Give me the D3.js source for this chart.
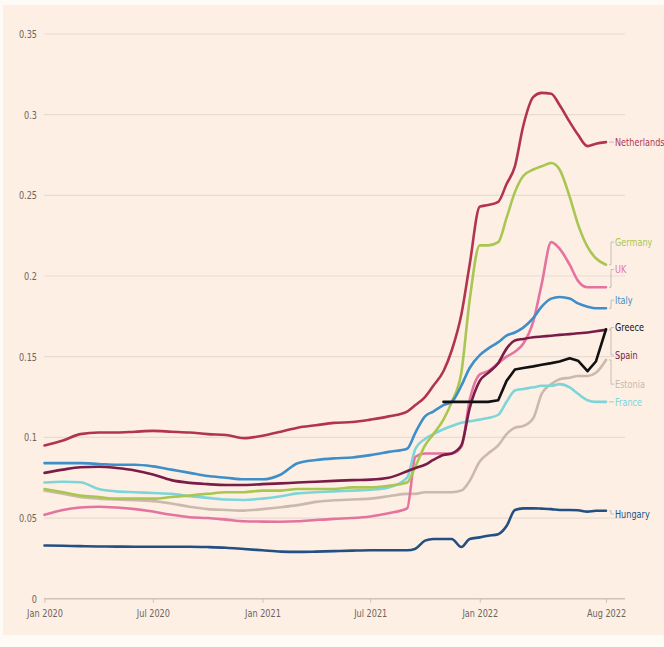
<!DOCTYPE html>
<html><head><meta charset="utf-8">
<script src="https://cdn.jsdelivr.net/npm/d3@7"></script>
<style>
html,body{margin:0;padding:0;background:#fefaf6;}
svg{display:block;}
text{font-family:"DejaVu Sans","Liberation Sans",sans-serif;}
</style></head>
<body><svg id="c" width="664" height="647"></svg>
<script>
// ---- data ----
const dates = [
 "2020-01-01","2020-02-01","2020-03-01","2020-04-01","2020-05-01","2020-06-01","2020-07-01","2020-08-01","2020-09-01","2020-10-01","2020-11-01","2020-12-01",
 "2021-01-01","2021-02-01","2021-03-01","2021-04-01","2021-05-01","2021-06-01","2021-07-01","2021-08-01",
 "2021-09-01","2021-09-15","2021-10-01","2021-10-15","2021-11-01","2021-11-15","2021-12-01","2021-12-15",
 "2022-01-01","2022-01-15","2022-02-01","2022-02-15","2022-03-01","2022-03-15","2022-04-01","2022-04-15",
 "2022-05-01","2022-05-15","2022-06-01","2022-06-15","2022-07-01","2022-07-15","2022-08-01"];

const netherlands = [.095,.098,.102,.103,.103,.1035,.104,.1035,.103,.102,.1015,.0995,.101,.1035,.106,.1075,.109,.1095,.111,.113,
 .116,.120,.125,.132,.141,.154,.176,.207,.243,.244,.246,.257,.268,.293,.311,.3135,.313,.306,.2955,.2875,.2805,.282,.283];
const germany = [.068,.066,.064,.063,.062,.062,.062,.063,.064,.065,.066,.066,.067,.067,.068,.068,.068,.069,.069,.070,
 .072,.082,.095,.102,.111,.122,.140,.185,.219,.219,.221,.236,.252,.262,.266,.268,.270,.266,.249,.232,.218,.211,.207];
const uk = [.052,.055,.0565,.057,.0565,.0555,.054,.052,.0505,.050,.049,.048,.0478,.0477,.048,.0488,.0495,.050,.051,.053,
 .056,.088,.090,.090,.090,.090,.094,.123,.139,.141,.146,.150,.153,.158,.172,.195,.221,.217,.207,.197,.193,.193,.193];
const italy = [.084,.084,.084,.0835,.083,.083,.082,.080,.078,.076,.075,.074,.074,.077,.084,.086,.087,.0875,.089,.091,
 .093,.103,.113,.116,.120,.122,.132,.143,.151,.155,.159,.163,.165,.168,.174,.181,.186,.187,.186,.183,.181,.180,.180];
const greece = [null,null,null,null,null,null,null,null,null,null,null,null,null,null,null,null,null,null,null,null,
 null,null,null,null,.122,.122,.122,.122,.122,.122,.123,.135,.142,.143,.144,.145,.146,.147,.149,.1475,.141,.147,.167];
const spain = [.078,.080,.0815,.0818,.081,.0795,.077,.0735,.0718,.071,.0705,.0705,.071,.0715,.072,.0725,.073,.0735,.0738,.075,
 .079,.081,.083,.086,.089,.090,.095,.118,.135,.140,.146,.155,.160,.161,.162,.1625,.163,.1635,.164,.1645,.165,.1658,.1666];
const estonia = [.067,.065,.063,.062,.0615,.061,.0605,.059,.057,.0555,.055,.0546,.0555,.0567,.058,.060,.061,.0615,.062,.0635,
 .065,.065,.066,.066,.066,.066,.067,.073,.085,.090,.095,.102,.106,.107,.112,.127,.133,.136,.137,.138,.138,.140,.148];
const france = [.072,.0725,.0722,.068,.0665,.066,.0655,.065,.0635,.0625,.0615,.0612,.062,.0635,.0653,.066,.0665,.067,.0675,.069,
 .075,.093,.099,.102,.105,.107,.109,.110,.111,.112,.114,.122,.129,.130,.131,.132,.132,.133,.131,.127,.123,.122,.122];
const hungary = [.033,.0328,.0326,.0324,.0323,.0322,.0322,.0322,.0322,.032,.0316,.0308,.030,.0292,.029,.0292,.0295,.0298,.030,.030,
 .030,.031,.036,.037,.037,.037,.032,.037,.038,.039,.040,.045,.055,.056,.056,.0558,.0555,.055,.055,.0548,.054,.0545,.0545];

const seriesNames = ["Hungary","Estonia","France","UK","Germany","Italy","Spain","Netherlands","Greece"];
const seriesValues = [hungary,estonia,france,uk,germany,italy,spain,netherlands,greece];
const yTicks = [0,0.05,0.1,0.15,0.2,0.25,0.3,0.35];
const yTickLabels = ["0","0.05","0.1","0.15","0.2","0.25","0.3","0.35"];
const xTicks = ["2020-01-01","2020-07-01","2021-01-01","2021-07-01","2022-01-01","2022-08-01"];
const xTickLabels = ["Jan 2020","Jul 2020","Jan 2021","Jul 2021","Jan 2022","Aug 2022"];

// ---- styles / layout ----
const colors = {Netherlands:"#b2344f",Germany:"#a9c651",UK:"#e5739f",Italy:"#3e8fc9",Greece:"#111111",
  Spain:"#7a1c48",Estonia:"#cbb9ad",France:"#7dd5d8",Hungary:"#234f82"};
const labelPos = {Netherlands:.283,Germany:.221,UK:.204,Italy:.185,Greece:.168,Spain:.151,Estonia:.133,France:.122,Hungary:.0525};
const SQ = 0.74; // horizontal squeeze to mimic the condensed font

const svg = d3.select("#c");
svg.append("rect").attr("x",3).attr("y",5).attr("width",661).attr("height",630).attr("fill","#fdefe4");

const parse = d3.timeParse("%Y-%m-%d");
const x = d3.scaleTime().domain([parse("2020-01-01"), parse("2022-08-01")]).range([44.5, 606]);
const y = d3.scaleLinear().domain([0,0.35]).range([598.7, 34]);
const gridRight = 625;

// gridlines
svg.append("g").selectAll("line").data(yTicks.slice(1)).join("line")
  .attr("x1",44).attr("x2",gridRight).attr("y1",d=>y(d)).attr("y2",d=>y(d))
  .attr("stroke","#e8dbd1").attr("stroke-width",1.2);
// y labels
svg.append("g").selectAll("text").data(yTicks).join("text")
  .attr("transform",d=>`translate(37,${y(d)}) scale(${SQ},1)`)
  .attr("dy","0.35em").attr("text-anchor","end")
  .attr("font-size",11).attr("fill","#6d645e").text((d,i)=>yTickLabels[i]);

// x axis
const xa = svg.append("g").attr("transform",`translate(0,${y(0)})`)
  .call(d3.axisBottom(x).tickValues(xTicks.map(parse)).tickSize(4).tickFormat((d,i)=>xTickLabels[i]));
xa.select(".domain").remove();
xa.append("line").attr("x1",44).attr("x2",gridRight).attr("stroke","#cfc2b8").attr("stroke-width",1.5);
xa.selectAll(".tick line").attr("stroke","#cfc2b8");
xa.selectAll(".tick text").attr("font-size",11).attr("fill","#6d645e").attr("dy","1.05em")
  .attr("transform",`scale(${SQ},1)`).attr("font-family",'"DejaVu Sans",sans-serif');

// lines
const dd = dates.map(parse);
seriesNames.forEach((name,si)=>{
  const vals = seriesValues[si];
  const pts = dd.map((d,i)=>[d,vals[i]]);
  const line = d3.line().defined(p=>p[1]!=null).x(p=>x(p[0])).y(p=>y(p[1]))
    .curve(name==="Greece"? d3.curveLinear : d3.curveMonotoneX);
  svg.append("path").datum(pts).attr("d",line).attr("fill","none")
    .attr("stroke",colors[name]).attr("stroke-width",2.6).attr("stroke-linejoin","round").attr("stroke-linecap","round");
});

// right labels with leader lines
seriesNames.forEach((name,si)=>{
  const vals = seriesValues[si];
  const endV = vals[vals.length-1];
  const ey = y(endV), ly = y(labelPos[name]);
  svg.append("path").attr("d",`M${x(dd[dd.length-1])+3},${ey}L611,${ey}L611,${ly}L614,${ly}`)
    .attr("fill","none").attr("stroke","#b9b0aa").attr("stroke-width",0.8);
  svg.append("text").attr("transform",`translate(615,${ly}) scale(${SQ},1)`).attr("dy","0.35em").attr("font-size",11)
    .attr("fill",colors[name]).text(name);
});
</script></body></html>
